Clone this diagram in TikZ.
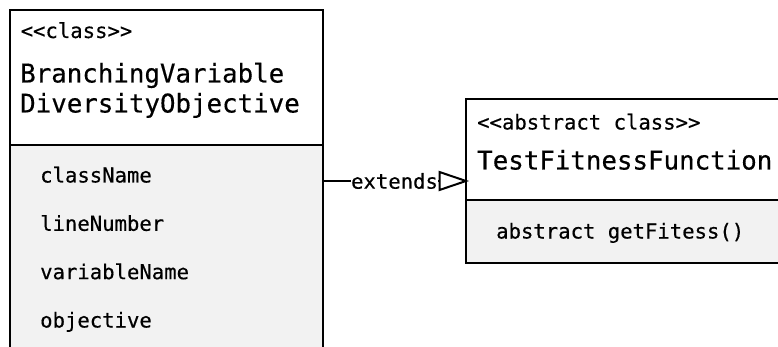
\documentclass[tikz,border=0pt]{standalone}
\usepackage{fontspec}
\usetikzlibrary{calc}
\newfontfamily\umlfont[FakeBold=0.4]{DejaVu Sans Mono}
\definecolor{compgray}{RGB}{242,242,242}
\tikzset{
  umlline/.style={draw=black, line width=2pt},
  small/.style={anchor=base west, inner sep=0pt, font=\umlfont\fontsize{20.6}{24}\selectfont},
  big/.style={anchor=base west, inner sep=0pt, font=\umlfont\fontsize{25.8}{30}\selectfont},
  opentri/.style={draw=black, line width=2pt, fill=white, line join=miter},
}
\begin{document}
\begin{tikzpicture}[x=1pt, y=-1pt]
\useasboundingbox (0,0) rectangle (778,347);
\clip (0,0) rectangle (778,347);

% class BranchingVariableDiversityObjective (runs past the lower edge)
\fill[white] (10,10) rectangle (323,145);
\fill[compgray] (10,145) rectangle (323,370);
\draw[umlline] (10,370) -- (10,10) -- (323,10) -- (323,370);
\draw[umlline] (10,145) -- (323,145);
\coordinate (bvdoE) at (323,181);

\node[small] (bvdoSt) at (20.5,38) {<<class>>};
\node[big] (bvdoN1) at (20,82.5) {BranchingVariable};
\node[big] (bvdoN2) at (20,112.5) {DiversityObjective};
\node[small] (a1) at (40,182.5) {className};
\node[small] (a2) at (40,230.8) {lineNumber};
\node[small] (a3) at (40,279.2) {variableName};
\node[small] (a4) at (40,327.5) {objective};

% abstract class TestFitnessFunction (runs past the right edge)
\fill[white] (466,99) rectangle (800,200);
\fill[compgray] (466,200) rectangle (800,263);
\draw[umlline] (800,99) -- (466,99) -- (466,263) -- (800,263);
\draw[umlline] (466,200) -- (800,200);
\coordinate (tffW) at (466,181);

\node[small] (tffSt) at (477,129.5) {<<abstract class>>};
\node[big] (tffN) at (477,169.5) {TestFitnessFunction};
\node[small] (m1) at (496,238.5) {abstract getFitess()};

% generalisation: line, label and hollow triangle head
\coordinate (triBase) at (439.5,181);
\draw[line width=2pt] (bvdoE) -- (triBase);
\path (bvdoE) -- node[fill=white, inner sep=0.5pt, font=\umlfont\fontsize{20.6}{24}\selectfont] (ext) {extends} (tffW);
\draw[opentri] ($(triBase)+(0,-9)$) -- (tffW) -- ($(triBase)+(0,9)$) -- cycle;
\end{tikzpicture}
\end{document}
